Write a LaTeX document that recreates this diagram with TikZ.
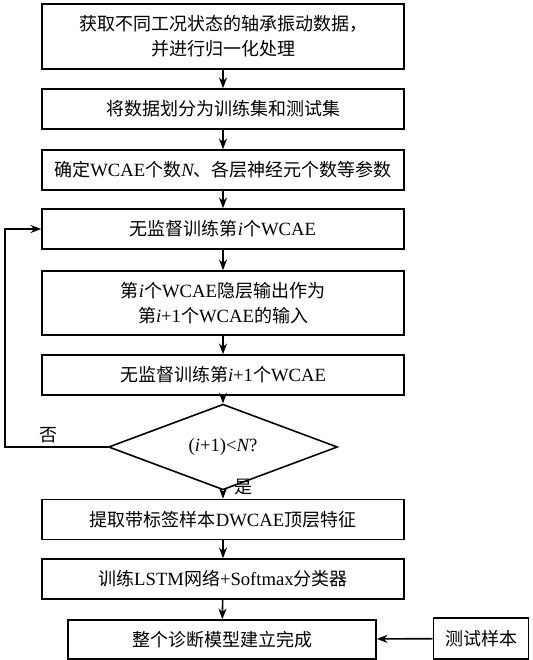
\documentclass[tikz,border=0pt]{standalone}
\usepackage{fontspec}
\setmainfont{Liberation Serif}
\newfontfamily\cjk{Noto Sans CJK SC}
\usetikzlibrary{shapes.geometric,arrows.meta}
\newcommand{\lat}[1]{{\rmfamily\fontsize{14}{19}\selectfont #1}}
\newcommand{\ital}[1]{{\rmfamily\itshape\fontsize{14}{19}\selectfont #1}}

\tikzset{
  stepbox/.style={draw, line width=1.2pt, minimum width=271.5pt, minimum height=30pt, inner sep=2pt, align=center, font={\cjk\fontsize{13.5}{19}\selectfont}},
  testbox/.style={stepbox, minimum width=71.25pt, minimum height=30.75pt},
  decbox/.style={draw, diamond, line width=1.2pt, inner sep=0pt, minimum width=171.75pt, minimum height=46.5pt, font={\cjk\fontsize{13.5}{19}\selectfont}},
  tag/.style={inner sep=0.75pt, font={\cjk\fontsize{13.5}{16}\selectfont}},
  flow/.style={line width=1.2pt, -{Stealth[length=8pt,width=6pt]}},
}

\begin{document}
\begin{tikzpicture}[x=0.75pt,y=0.75pt,yscale=-1,xscale=1]
  \useasboundingbox (0,0) rectangle (532,660);

  % Steps
  \node [stepbox, minimum height=48.75pt] (data) at (223,36.5) {获取不同工况状态的轴承振动数据，\\并进行归一化处理};
  \node [stepbox] (split) at (223,109) {将数据划分为训练集和测试集};
  \node [stepbox] (param) at (223,170) {确定\lat{WCAE}个数\ital{N}、各层神经元个数等参数};
  \node [stepbox] (train) at (223,229) {无监督训练第\ital{i}个\lat{WCAE}};
  \node [stepbox, minimum height=48pt] (hidden) at (223,303) {第\ital{i}个\lat{WCAE}隐层输出作为\\第\ital{i}\lat{+1}个\lat{WCAE}的输入};
  \node [stepbox] (next) at (223,375) {无监督训练第\ital{i}\lat{+1}个\lat{WCAE}};
  \node [decbox] (check) at (223,447) {\lat{(\ital{i}+1)<\ital{N}?}};
  \node [stepbox] (feat) at (223,519.5) {提取带标签样本\lat{DWCAE}顶层特征};
  \node [stepbox] (lstm) at (223,579) {训练\lat{LSTM}网络\lat{+Softmax}分类器};
  \node [stepbox, minimum width=231pt, minimum height=29.25pt] (model) at (222,639.5) {整个诊断模型建立完成};
  \node [testbox] (test) at (481,638.5) {测试样本};

  % Labels
  \node [tag] (no) at (48,435) {否};
  \node [tag] (yes) at (243,487) {是};

  % Connectors
  \coordinate (turn) at (5,447);
  \draw [flow] (data) -- (split);
  \draw [flow] (split) -- (param);
  \draw [flow] (param) -- (train);
  \draw [flow] (train) -- (hidden);
  \draw [flow] (hidden) -- (next);
  \draw [flow] (next) -- (check);
  \draw [flow] (check) -- (feat);
  \draw [flow] (feat) -- (lstm);
  \draw [flow] (lstm) -- (model);
  \draw [flow] (test) -- (model);
  \draw [flow] (check.west) -- (turn) |- (train.west);

\end{tikzpicture}
\end{document}
